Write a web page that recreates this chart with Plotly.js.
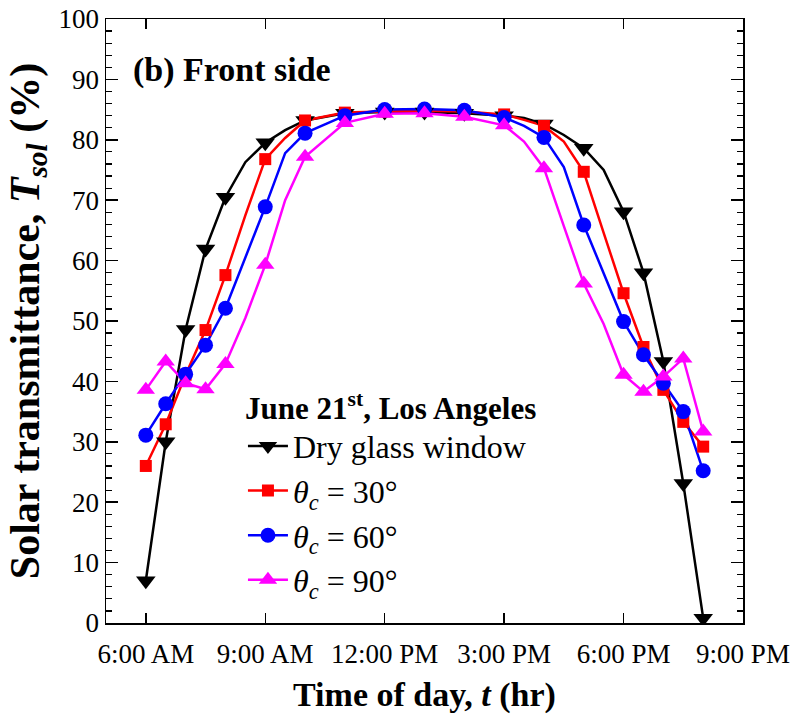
<!DOCTYPE html>
<html>
<head>
<meta charset="utf-8">
<script src="https://cdn.plot.ly/plotly-3.0.1.min.js"></script>
<style>html,body{margin:0;padding:0;background:#fff;}#chart{width:795px;height:719px;}</style>
</head>
<body>
<div id="chart"></div>
<script>
// Time of day (hours)
const hours = [6,6.5,7,7.5,8,8.5,9,9.5,10,11,12,13,14,15,15.5,16,16.5,17,17.5,18,18.5,19,19.5,20];
// 1 = point drawn with a marker, 0 = line vertex only
const marked = [1,1,1,1,1,0,1,0,1,1,1,1,1,1,0,1,0,1,0,1,1,1,1,1];
// Solar transmittance (%)
const dryGlass = [7.0,30.0,48.6,61.9,70.5,76.3,79.5,81.6,83.2,84.4,84.6,84.6,84.4,84.0,83.6,82.6,80.8,78.6,75.0,68.1,58.0,43.3,23.1,0.8];
const theta30  = [26.0,32.9,41.1,48.5,57.6,67.5,76.8,80.3,83.2,84.5,84.7,84.8,84.7,84.2,83.3,82.3,79.7,74.7,64.6,54.6,45.7,38.6,33.3,29.2];
const theta60  = [31.1,36.3,41.2,46.0,52.1,60.5,68.9,77.8,81.1,84.0,85.0,85.1,84.9,83.7,82.3,80.4,75.5,65.9,57.9,49.9,44.4,39.7,35.0,25.2];
const theta90  = [38.6,43.3,39.7,38.7,42.9,50.5,59.3,70.0,77.2,82.8,84.3,84.4,83.8,82.4,79.7,75.3,65.7,56.2,49.5,41.1,38.3,40.8,43.8,31.7];

const seriesNames = ['Dry glass window',
  '<i>θ</i><sub><i>c</i></sub> = 30°',
  '<i>θ</i><sub><i>c</i></sub> = 60°',
  '<i>θ</i><sub><i>c</i></sub> = 90°'];
const xTickVals = [6,9,12,15,18,21];
const xTickText = ['6:00 AM','9:00 AM','12:00 PM','3:00 PM','6:00 PM','9:00 PM'];

const seriesData = [dryGlass, theta30, theta60, theta90];
const colors = ['#000000','#ff0000','#0000ff','#ff00ff'];
const symbols = ['triangle-down','square','circle','triangle-up'];
const sizes = [17,12,15,16];

const FONT = 'Liberation Serif, Times New Roman, serif';
const traces = [];
seriesData.forEach((ys, i) => {
  traces.push({x: hours, y: ys, mode: 'lines', type: 'scatter',
    line: {color: colors[i], width: 2.5}, showlegend: false, hoverinfo: 'skip'});
});
seriesData.forEach((ys, i) => {
  const mx = hours.filter((h, k) => marked[k]);
  const my = ys.filter((v, k) => marked[k]);
  traces.push({x: mx, y: my, mode: 'markers', type: 'scatter',
    marker: {color: colors[i], symbol: symbols[i], size: sizes[i], line: {width: 0}},
    showlegend: false});
});
seriesData.forEach((ys, i) => {
  traces.push({x: [null], y: [null], mode: 'lines+markers', type: 'scatter',
    name: seriesNames[i],
    line: {color: colors[i], width: 2.5},
    marker: {color: colors[i], symbol: symbols[i], size: sizes[i], line: {width: 0}}});
});

const layout = {
  width: 795, height: 719,
  margin: {l: 106, r: 52, t: 19, b: 96},
  paper_bgcolor: '#ffffff', plot_bgcolor: '#ffffff',
  font: {family: FONT, color: '#000', size: 27},
  showlegend: true,
  legend: {
    x: 0.215, y: 0.405, xanchor: 'left', yanchor: 'top',
    bgcolor: 'rgba(0,0,0,0)', borderwidth: 0,
    font: {family: FONT, size: 32, color: '#000'},
    title: {text: '<b>June 21<sup>st</sup>, Los Angeles</b>', font: {family: FONT, size: 31, color: '#000'}},
    tracegroupgap: 0, itemwidth: 40
  },
  xaxis: {
    range: [5, 21], tickvals: xTickVals, ticktext: xTickText,
    ticks: 'inside', ticklen: 10, tickwidth: 1.5, tickcolor: '#000',
    showline: true, linecolor: '#000', linewidth: 1.5, mirror: 'ticks',
    showgrid: false, zeroline: false, ticklabelstandoff: 6,
    tickfont: {family: FONT, size: 27, color: '#000'},
    title: {text: '<b>Time of day, <i>t</i> (hr)</b>', font: {family: FONT, size: 34, color: '#000'}, standoff: 14}
  },
  yaxis: {
    range: [0, 100], dtick: 10, tick0: 0,
    ticks: 'inside', ticklen: 12, tickwidth: 1.5, tickcolor: '#000',
    minor: {dtick: 2, ticks: 'inside', ticklen: 6, tickwidth: 1.2, tickcolor: '#000', showgrid: false},
    showline: true, linecolor: '#000', linewidth: 1.5, mirror: 'ticks',
    showgrid: false, zeroline: false,
    tickfont: {family: FONT, size: 27, color: '#000'},
    title: {text: '<b>Solar transmittance, <i>T</i><sub><i>sol</i></sub> (%)</b>', font: {family: FONT, size: 42, color: '#000'}, standoff: 6}
  },
  annotations: [{
    text: '<b>(b) Front side</b>', xref: 'paper', yref: 'paper',
    x: 0.04, y: 0.916, xanchor: 'left', yanchor: 'middle', showarrow: false,
    font: {family: FONT, size: 34, color: '#000'}
  }]
};

Plotly.newPlot('chart', traces, layout, {displayModeBar: false, staticPlot: true});
</script>
</body>
</html>
